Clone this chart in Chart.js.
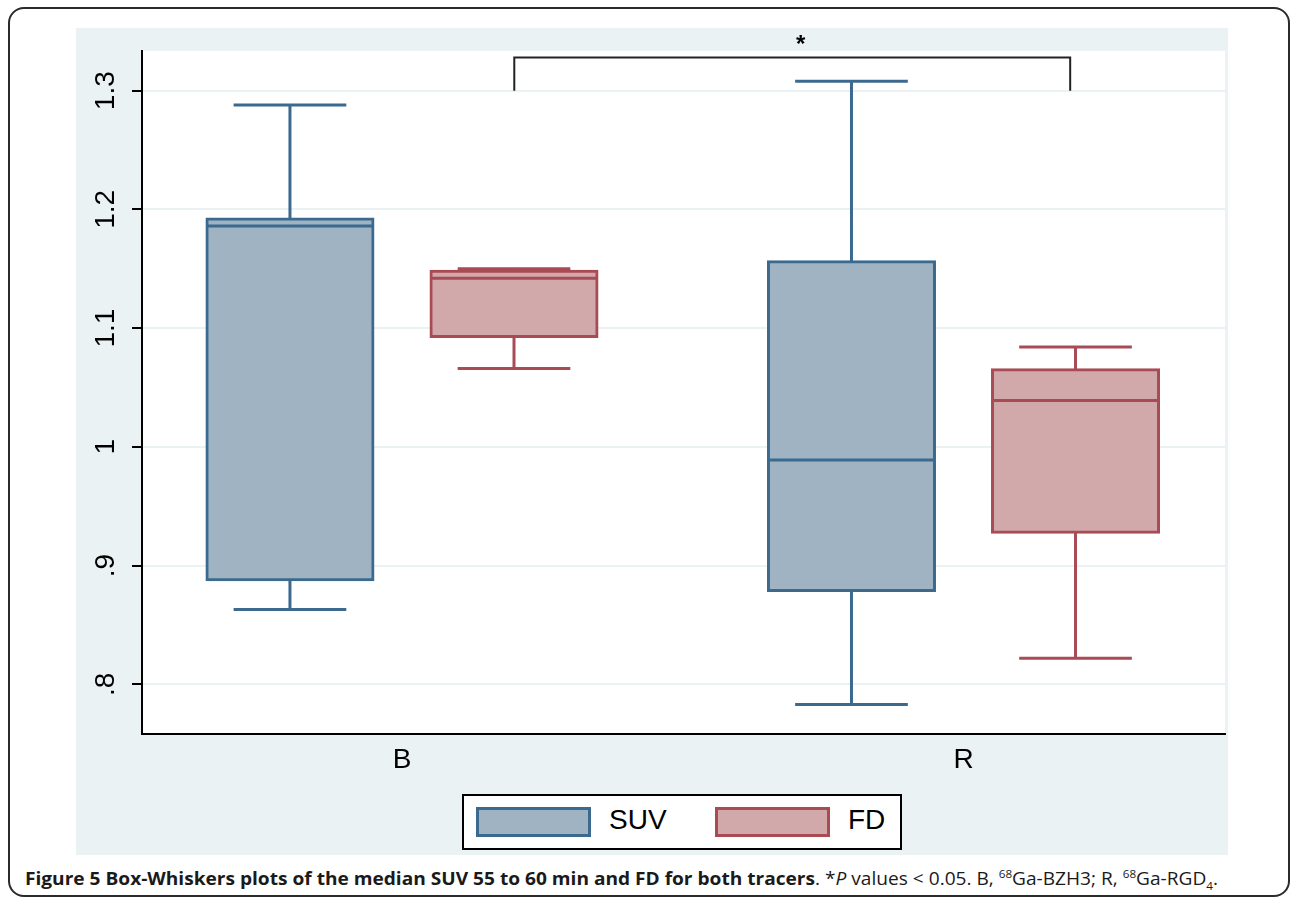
<!DOCTYPE html>
<html>
<head>
<meta charset="utf-8">
<script src="https://cdn.jsdelivr.net/npm/chart.js@4.4.1/dist/chart.umd.min.js"></script>
<style>
body { margin: 0; width: 1292px; height: 899px; background: #fff; position: relative; overflow: hidden; }
#frame { position: absolute; left: 8px; top: 7px; width: 1278px; height: 886px; border: 2px solid #2b2b2b; border-radius: 16px; }
#wrap { position: absolute; left: 76px; top: 28px; width: 1152px; height: 827px; background: #EAF2F3; }
#legend { position: absolute; left: 462px; top: 794px; width: 436px; height: 52px; border: 2px solid #000; background: #fff; }
.sw { position: absolute; top: 11px; width: 109px; height: 24px; border: 3px solid; }
.lt { position: absolute; top: 7px; font: 28px 'Liberation Sans', Arial, sans-serif; color: #000; line-height: 34px; }
#caption { position: absolute; left: 25px; top: 869px; font-family: 'Open Sans', sans-serif; font-size: 18px; line-height: 1; white-space: nowrap; color: #1a1a1a; transform-origin: 0 0; }
#caption sup, #caption sub { font-size: 11px; line-height: 0; }
</style>
</head>
<body>
<div id="frame"></div>
<div id="wrap"><canvas id="myChart"></canvas></div>
<div id="legend"></div>
<div id="caption"><b>Figure 5 Box-Whiskers plots of the median SUV 55 to 60 min and FD for both tracers</b>. *<i>P</i> values &lt; 0.05. B, <sup>68</sup>Ga-BZH3; R, <sup>68</sup>Ga-RGD<sub>4</sub>.</div>
<script>
// groups on the x axis
var groups = ['B', 'R']
var seriesNames = ['SUV', 'FD']

// box stats per group (B, R)
var suvLow = [0.863, 0.783]
var suvQ1 = [0.888, 0.879]
var suvMed = [1.186, 0.989]
var suvQ3 = [1.192, 1.156]
var suvHigh = [1.288, 1.308]

var fdLow = [1.066, 0.822]
var fdQ1 = [1.093, 0.928]
var fdMed = [1.142, 1.039]
var fdQ3 = [1.148, 1.065]
var fdHigh = [1.150, 1.084]

var yTicks = [0.8, 0.9, 1, 1.1, 1.2, 1.3]
var yTickLabels = ['.8', '.9', '1', '1.1', '1.2', '1.3']

// significance bracket between the FD boxes
var bracket = { from: 1.2, to: 2.19, base: 1.3, top: 1.328, labelX: 1.71, label: '*' }

var fillColors = ['#A0B3C2', '#D2A9AB']
var lineColors = ['#3B6A8E', '#A84B55']
var font = "'Liberation Sans', Arial, sans-serif"

function boxData(q1, q3) {
    return groups.map((g, i) => {
        return { x: i + 1, y: [q1[i], q3[i]] }
    })
}

var stats = [
    { low: suvLow, q1: suvQ1, med: suvMed, q3: suvQ3, high: suvHigh },
    { low: fdLow, q1: fdQ1, med: fdMed, q3: fdQ3, high: fdHigh }
]

var data = {
    datasets: stats.map((s, k) => {
        return {
            label: seriesNames[k],
            data: boxData(s.q1, s.q3),
            backgroundColor: fillColors[k],
            borderColor: lineColors[k],
            borderWidth: 3,
            borderSkipped: false,
            inflateAmount: 1.5 // centre the border on q1 / q3
        }
    })
}

// white plot region
var plotBg = {
    id: 'plotBg',
    beforeDraw: function (chart) {
        var a = chart.chartArea
        chart.ctx.save()
        chart.ctx.fillStyle = '#fff'
        chart.ctx.fillRect(a.left, a.top, a.right - a.left, a.bottom - a.top)
        chart.ctx.restore()
    }
}

// medians and whiskers on top of the floating bars
var whiskers = {
    id: 'whiskers',
    afterDatasetsDraw: function (chart) {
        var ctx = chart.ctx
        var y = chart.scales.y
        chart.data.datasets.forEach((ds, k) => {
            var s = stats[k]
            chart.getDatasetMeta(k).data.forEach((bar, i) => {
                var half = bar.width / 2
                var cap = (bar.width + 3) / 3
                var pMed = y.getPixelForValue(s.med[i])
                var pQ1 = y.getPixelForValue(s.q1[i])
                var pQ3 = y.getPixelForValue(s.q3[i])
                var pLo = y.getPixelForValue(s.low[i])
                var pHi = y.getPixelForValue(s.high[i])
                ctx.save()
                ctx.strokeStyle = ds.borderColor
                ctx.lineWidth = 3
                ctx.beginPath()
                ctx.moveTo(bar.x - half, pMed)
                ctx.lineTo(bar.x + half, pMed)
                ctx.moveTo(bar.x, pQ3)
                ctx.lineTo(bar.x, pHi)
                ctx.moveTo(bar.x - cap, pHi)
                ctx.lineTo(bar.x + cap, pHi)
                ctx.moveTo(bar.x, pQ1)
                ctx.lineTo(bar.x, pLo)
                ctx.moveTo(bar.x - cap, pLo)
                ctx.lineTo(bar.x + cap, pLo)
                ctx.stroke()
                ctx.restore()
            })
        })
    },
    afterDraw: function (chart) {
        var ctx = chart.ctx
        var x = chart.scales.x
        var y = chart.scales.y
        var x1 = x.getPixelForValue(bracket.from)
        var x2 = x.getPixelForValue(bracket.to)
        var yb = y.getPixelForValue(bracket.base)
        var yt = y.getPixelForValue(bracket.top)
        ctx.save()
        ctx.strokeStyle = '#222'
        ctx.lineWidth = 2
        ctx.beginPath()
        ctx.moveTo(x1, yb)
        ctx.lineTo(x1, yt)
        ctx.lineTo(x2, yt)
        ctx.lineTo(x2, yb)
        ctx.stroke()
        ctx.fillStyle = '#000'
        ctx.font = 'bold 24px ' + font
        ctx.textAlign = 'center'
        ctx.textBaseline = 'middle'
        ctx.fillText(bracket.label, x.getPixelForValue(bracket.labelX), yt - 12)
        ctx.restore()
    }
}

var options = {
    responsive: true,
    maintainAspectRatio: false,
    animation: false,
    layout: { padding: { top: 20, right: 3, left: 0, bottom: 0 } },
    categoryPercentage: 0.798,
    barPercentage: 0.741,
    scales: {
        x: {
            type: 'linear',
            offset: false,
            min: 0.537,
            max: 2.4657,
            afterBuildTicks: function (scale) {
                scale.ticks = groups.map((g, i) => ({ value: i + 1 }))
            },
            afterFit: function (scale) { scale.height = 121 },
            ticks: {
                callback: function (value) { return groups[value - 1] },
                color: '#000',
                font: { size: 28, family: font },
                padding: 9
            },
            grid: { display: true, offset: false, drawOnChartArea: false, drawTicks: false },
            border: { color: '#000', width: 2 }
        },
        y: {
            min: 0.7581,
            max: 1.3336,
            afterBuildTicks: function (scale) {
                scale.ticks = yTicks.map((v) => ({ value: v }))
            },
            afterFit: function (scale) { scale.width = 66 },
            ticks: {
                callback: function (value, index) { return yTickLabels[index] },
                minRotation: 90,
                maxRotation: 90,
                crossAlign: 'center',
                color: '#000',
                font: { size: 28, family: font },
                padding: 6
            },
            grid: { color: '#EAF2F3', lineWidth: 2, tickColor: '#000', tickLength: 10, tickWidth: 2 },
            border: { color: '#000', width: 2 }
        }
    },
    plugins: {
        legend: { display: false },
        tooltip: { enabled: false }
    }
}

var ctx = document.getElementById('myChart').getContext('2d')
var myChart = new Chart(ctx, {
    type: 'bar',
    data: data,
    options: options,
    plugins: [plotBg, whiskers]
})

// legend box under the plot
var legend = document.getElementById('legend')
seriesNames.forEach((name, k) => {
    var sw = document.createElement('div')
    sw.className = 'sw'
    sw.style.left = (12 + 239 * k) + 'px'
    sw.style.background = fillColors[k]
    sw.style.borderColor = lineColors[k]
    legend.appendChild(sw)
    var t = document.createElement('div')
    t.className = 'lt'
    t.style.left = (145 + 239 * k) + 'px'
    t.textContent = name
    legend.appendChild(t)
})

// caption stretched to the width it has in the figure
var cap = document.getElementById('caption')
var w = cap.getBoundingClientRect().width
cap.style.transform = 'scaleX(' + (1193 / w) + ')'
</script>
</body>
</html>
